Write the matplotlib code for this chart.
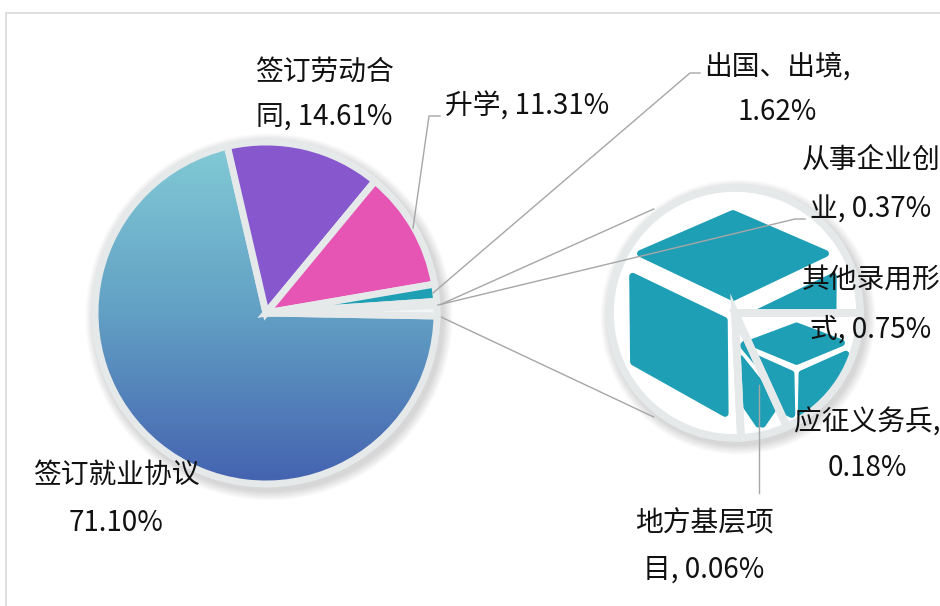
import matplotlib
matplotlib.use('Agg')
import matplotlib.pyplot as plt
import matplotlib.patches as mpatches
from matplotlib.colors import LinearSegmentedColormap
import numpy as np

plt.rcParams['font.family'] = ['Noto Sans CJK SC', 'DejaVu Sans']

# Data (percent)
main_names = ['签订就业协议', '签订劳动合同', '升学', '出国、出境', '从事企业创业', '其他']
main_values = [71.10, 14.61, 11.31, 1.62, 0.37, 0.99]
sec_names = ['应征义务兵', '地方基层项目', '其他录用形式']
sec_values = [0.18, 0.06, 0.75]

main_colors = ['none', '#8757CE', '#E655B4', '#1E9FB4', '#1E9FB4', '#F3F5F5']
TEAL = '#1F9FB5'
EDGE = '#E5E9EA'
LINE = '#A6A6A6'

W, H = 940, 606
def Y(y):  # pixel row -> data y
    return H - y

fig = plt.figure(figsize=(9.4, 6.06), dpi=100)
ax = fig.add_axes([0, 0, 1, 1])

# frame border
ax.add_patch(mpatches.Rectangle((6, -20), 980, Y(13) + 20, fc='none', ec='#D9D9D9', lw=1.2, zorder=0))

# ---- main pie ----
mc, mr = (266, Y(313)), 171
for i in range(8):
    ax.add_patch(mpatches.Circle((mc[0] + 3, mc[1] - 4), mr + 4 + i * 1.2, fc='#000000',
                                 alpha=0.018, ec='none', zorder=0.2))
wedges, _ = ax.pie(main_values, colors=main_colors, startangle=-1, counterclock=False,
                   center=mc, radius=mr, frame=True,
                   wedgeprops=dict(edgecolor=EDGE, linewidth=5))

cmap = LinearSegmentedColormap.from_list('g', ['#82CBD6', '#62A0C4', '#4462B0'])
grad = np.linspace(0, 1, 256)[:, None]
im = ax.imshow(grad, cmap=cmap, aspect='auto', origin='upper', zorder=0.5,
               extent=[mc[0] - mr, mc[0] + mr, mc[1] - mr, mc[1] + mr])
im.set_clip_path(wedges[0])

# ---- secondary pie (picture-filled with a cube icon) ----
sc, sr = (735, Y(313)), 125
for i in range(8):
    ax.add_patch(mpatches.Circle((sc[0] + 3, sc[1] - 4), sr + 4 + i * 1.2, fc='#000000',
                                 alpha=0.018, ec='none', zorder=0.2))
swedges, _ = ax.pie(sec_values, colors=['white'] * 3, startangle=0, counterclock=False,
                    center=sc, radius=sr, frame=True, wedgeprops=dict(edgecolor='none'))

cube_faces = [
    [(0.112, 0.262), (0.492, 0.092), (0.872, 0.262), (0.492, 0.448)],
    [(0.085, 0.345), (0.466, 0.525), (0.466, 0.910), (0.085, 0.700)],
    [(0.518, 0.525), (0.899, 0.345), (0.899, 0.700), (0.518, 0.910)],
]
for w in swedges:
    bb = w.get_path().get_extents()
    for face in cube_faces:
        pts = np.array([(bb.x0 + u * bb.width, bb.y1 - v * bb.height) for u, v in face])
        # pull corners in a little so the thick round-joined outline gives soft corners
        c = pts.mean(axis=0)
        d = pts - c
        pts = pts - 2.5 * d / np.linalg.norm(d, axis=1)[:, None]
        p = mpatches.Polygon(pts, closed=True, fc=TEAL, ec=TEAL, lw=5, joinstyle='round', zorder=1.2)
        ax.add_patch(p)
        p.set_clip_path(w)
    ax.add_patch(mpatches.Wedge(w.center, w.r, w.theta1, w.theta2, fc='none', ec=EDGE, lw=5.5, zorder=1.5))

# ---- series lines between the pies ----
ow = wedges[5]
for th_main, th_sec in [(ow.theta2, 128), (ow.theta1, -128)]:
    x0 = mc[0] + (mr + 2) * np.cos(np.radians(th_main))
    y0 = mc[1] + (mr + 2) * np.sin(np.radians(th_main))
    x1 = sc[0] + (sr + 7) * np.cos(np.radians(th_sec))
    y1 = sc[1] + (sr + 7) * np.sin(np.radians(th_sec))
    ax.plot([x0, x1], [y0, y1], color=LINE, lw=1, zorder=0.8)

# ---- leader lines ----
def leader(pts):
    ax.plot([p[0] for p in pts], [Y(p[1]) for p in pts], color=LINE, lw=1, zorder=2)

leader([(413, 228), (429, 116), (440, 116)])
leader([(433, 293), (690, 73), (700, 73)])
leader([(438, 305), (795, 219), (805, 219)])
leader([(759, 385), (759, 493)])

# ---- labels ----
def fmt(v):
    return f'{v:.2f}%'

labels = [
    (116, [475, 523], ['签订就业协议', fmt(main_values[0])]),
    (324, [72, 118], ['签订劳动合', '同, ' + fmt(main_values[1])]),
    (527, [107], ['升学, ' + fmt(main_values[2])]),
    (777, [67, 112], ['出国、出境,', fmt(main_values[3])]),
    (871, [160, 210], ['从事企业创', '业, ' + fmt(main_values[4])]),
    (871, [280, 330], ['其他录用形', '式, ' + fmt(sec_values[2])]),
    (867, [423, 468], ['应征义务兵,', fmt(sec_values[0])]),
    (704, [523, 570], ['地方基层项', '目, ' + fmt(sec_values[1])]),
]
for x, ys, lines in labels:
    for y, s in zip(ys, lines):
        ax.text(x, Y(y), s, ha='center', va='center', fontsize=20, color='#111111', zorder=3)

ax.set_xlim(0, W)
ax.set_ylim(0, H)
ax.set_aspect('auto')
ax.axis('off')

fig.savefig('out.png', dpi=100, facecolor='white')
